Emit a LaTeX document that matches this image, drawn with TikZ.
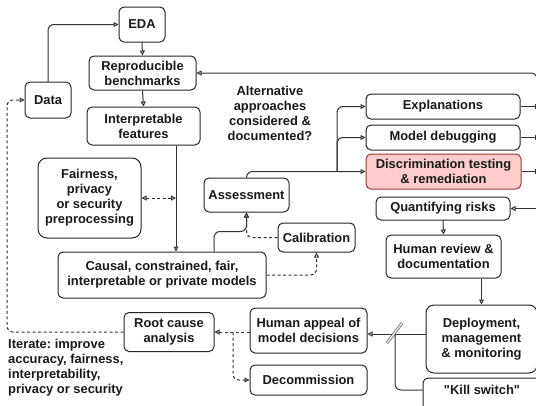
\documentclass[tikz,border=0pt]{standalone}
\usepackage{fontspec}
\setmainfont{Liberation Sans}
\usetikzlibrary{arrows.meta,calc}
\frenchspacing
\begin{document}
\begin{tikzpicture}[x=1pt,y=-1pt,
  font=\fontsize{12.9}{15}\selectfont\bfseries,
  box/.style={draw=black!85, line width=1pt, rounded corners=5pt, align=center, inner sep=2pt, text=black!90},
  pinkbox/.style={box, draw=red!55!black!80, fill=red!20},
  tip/.style={-{Triangle[open,length=5pt,width=5pt]}},
  conn/.style={draw=black!80, line width=1pt},
  arr/.style={conn, tip},
  dsh/.style={dash pattern=on 3pt off 2.5pt},
  darr/.style={conn, tip, dsh},
  plain/.style={align=center, inner sep=0pt, text=black!90},
]
\useasboundingbox (0,0) rectangle (536,405);
\clip (0,0) rectangle (536,405);
\fill[white] (0,0) rectangle (536,405);

% nodes
\node[box, minimum width=46pt, minimum height=35pt] (eda) at (142,24.5) {EDA};
\node[box, minimum width=107pt, minimum height=34pt] (bench) at (142.5,73) {Reproducible\\benchmarks};
\node[box, minimum width=46pt, minimum height=36pt] (data) at (48,100) {Data};
\node[box, minimum width=113pt, minimum height=38pt] (feat) at (143.5,126) {Interpretable\\features};
\node[box, minimum width=103pt, minimum height=80pt, rounded corners=9pt] (fair) at (89.5,198) {Fairness,\\privacy\\or security\\preprocessing};
\node[box, minimum width=208pt, minimum height=46pt] (causal) at (162,275) {Causal, constrained, fair,\\interpretable or private models};
\node[box, minimum width=85pt, minimum height=34pt] (assess) at (246.5,195) {Assessment};
\node[box, minimum width=77pt, minimum height=29pt] (calib) at (316.5,237.5) {Calibration};
\node[plain] (alt) at (270,113) {Alternative\\approaches\\considered \&\\documented?};
\node[box, minimum width=154pt, minimum height=25pt] (expl) at (443,106.5) {Explanations};
\node[box, minimum width=154pt, minimum height=25pt] (debug) at (443,137.5) {Model debugging};
\node[pinkbox, minimum width=155pt, minimum height=35pt] (discr) at (443.5,171.5) {Discrimination testing\\\& remediation};
\node[box, minimum width=134pt, minimum height=23pt] (quant) at (443,208.5) {Quantifying risks};
\node[box, minimum width=115pt, minimum height=43pt] (human) at (443.5,256.5) {Human review \&\\documentation};
\node[box, minimum width=111pt, minimum height=68pt, rounded corners=8pt] (deploy) at (481.5,339) {Deployment,\\management\\\& monitoring};
\node[box, minimum width=118pt, minimum height=36pt, text depth=12pt] (kill) at (482,396) {\textquotedbl Kill switch\textquotedbl};
\node[box, minimum width=117pt, minimum height=45pt] (appeal) at (308.5,330.5) {Human appeal of\\model decisions};
\node[box, minimum width=117pt, minimum height=30pt] (decom) at (308.5,380) {Decommission};
\node[box, minimum width=90pt, minimum height=39pt] (root) at (169,332) {Root cause\\analysis};
\node[plain, align=left, anchor=west] (iter) at (8,367.5) {Iterate: improve\\accuracy, fairness,\\interpretability,\\privacy or security};

% helper coordinates
\coordinate (fx) at (176,0);
\coordinate (lft) at (7,0);
\coordinate (rgt) at (540,0);
\coordinate (topr) at (537,95);
\coordinate (br) at (337,171.5);
\coordinate (jn) at (395,334);
\coordinate (dj) at (233,332);

% connectors
\draw[arr, rounded corners=6pt] (data.north) |- (eda.west);
\draw[arr] (eda.south) -- (bench.north);
\draw[arr] (bench.south) -- (feat.north);
\draw[arr] (feat.south -| fx) -- (causal.north -| fx);
\draw[conn, dsh, {Triangle[open,length=5pt,width=5pt]}-{Triangle[open,length=5pt,width=5pt]}] (fair.east) -- (fair.east -| fx);
\draw[arr, rounded corners=6pt] ([xshift=52pt]causal.north) -- ++(0,-20) -| (assess.south);
\draw[darr, rounded corners=6pt] (calib.west) -| (assess.south);
\draw[darr, rounded corners=6pt] (causal.east) -| (calib.south);
\draw[arr, rounded corners=6pt] (assess.north) |- (discr.west);
\draw[arr, rounded corners=6pt] (br) |- (debug.west);
\draw[arr, rounded corners=6pt] (br) |- (expl.west);
\draw[arr] (expl.east) -- (expl.east -| rgt);
\draw[arr] (debug.east) -- (debug.east -| rgt);
\draw[arr] (discr.east) -- (discr.east -| rgt);
\draw[arr] (quant.east -| rgt) -- (quant.east);
\draw[arr, rounded corners=6pt] (topr) |- (bench.east);
\draw[arr] (quant.south) -- (human.north);
\draw[arr] (human.south -| deploy.north) -- (deploy.north);
\draw[arr] (deploy.west |- jn) -- (appeal.east |- jn);
\draw[conn, rounded corners=6pt] ([yshift=6pt]kill.west) -| (jn);
\draw[double=white, draw=black!60, double distance=1.2pt, line width=0.8pt] ($(jn)+(-8,9)$) -- ($(jn)+(7,-11)$);
\draw[darr] (appeal.west |- dj) -- (root.east |- dj);
\draw[darr, rounded corners=6pt] (dj) |- (decom.west);
\draw[darr, rounded corners=6pt] (root.west) -| (lft |- data.west) -- (data.west);
\end{tikzpicture}
\end{document}
